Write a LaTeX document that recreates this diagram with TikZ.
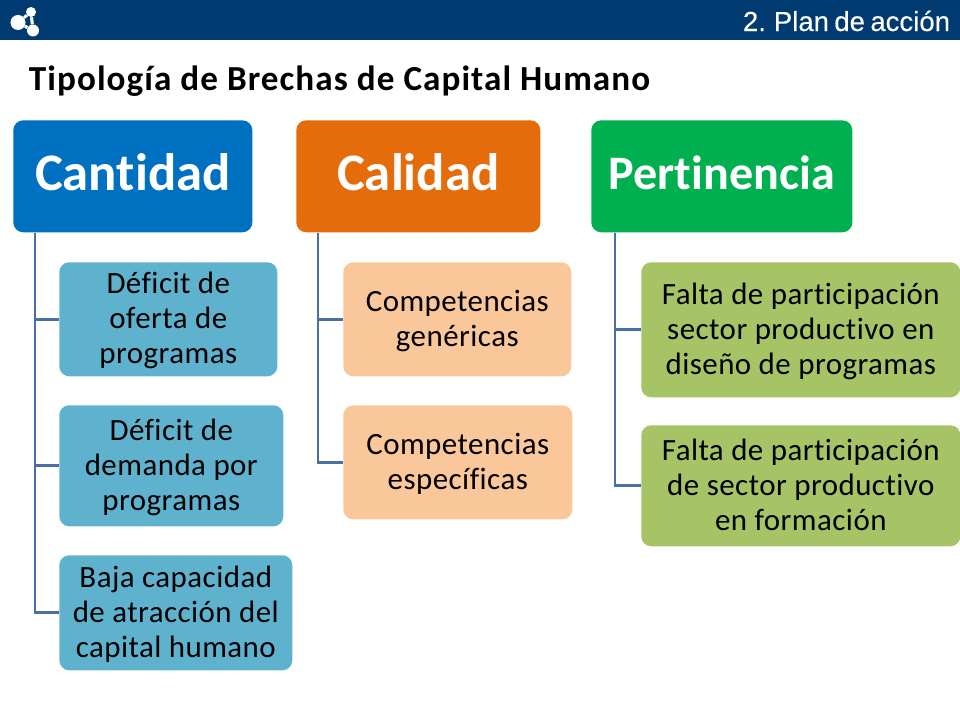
\documentclass[tikz,border=0pt]{standalone}
\usepackage{fontspec}
\setmainfont{Carlito}[Ligatures=CommonOff]
\newfontfamily\leaffont{Carlito}[Ligatures=CommonOff,LetterSpace=1.5]
\newfontfamily\titlefont{Carlito}[Ligatures=CommonOff,LetterSpace=3.0]
\newfontfamily\headfont{Liberation Sans}[WordSpace=0.7,FakeBold=0.2]
\usetikzlibrary{calc}
\definecolor{barblue}{HTML}{003A70}
\definecolor{cantblue}{HTML}{0070C0}
\definecolor{caliorange}{HTML}{E46C0A}
\definecolor{pertgreen}{HTML}{00B050}
\definecolor{cantlight}{HTML}{5FB2CE}
\definecolor{calilight}{HTML}{FAC79A}
\definecolor{pertlight}{HTML}{A6C365}
\definecolor{linkblue}{HTML}{4A6EA6}
\tikzset{
  head/.style={anchor=north west,rounded corners=0.25cm,inner sep=0pt,text=white,text depth=0.2cm,
    font=\fontsize{37.5}{40}\selectfont\bfseries,minimum height=2.8cm},
  leaf/.style={anchor=north west,rounded corners=0.25cm,inner sep=0pt,text=black,align=center,text depth=1.8pt,
    font=\leaffont\fontsize{22}{25}\selectfont},
  link/.style={draw=linkblue,line width=2.1pt},
  dot/.style={circle,fill=white,inner sep=0pt}
}
\begin{document}
\begin{tikzpicture}[x=0.025cm,y=-0.025cm]
\useasboundingbox (0,0) rectangle (960,720);
\fill[barblue] (0,0) rectangle (960,40);
% logo
\node[dot,minimum size=0.375cm] (dotl) at (18,22.5) {};
\node[dot,minimum size=0.25cm] (dott) at (31,12) {};
\node[dot,minimum size=0.3cm] (dotb) at (33,30.5) {};
\draw[white,line width=2.2pt] (dotl) -- (dott) -- (dotb) -- (dotl);
\node[anchor=east,text=white,font=\headfont\fontsize{19.6}{22}\selectfont] (section) at (955,21) {2. Plan de acción};
\node[anchor=west,font=\titlefont\fontsize{25}{28}\selectfont\bfseries] (title) at (24,81) {Tipología de Brechas de Capital Humano};
% heads
\node[head,fill=cantblue,minimum width=5.975cm] (cantidad) at (13,120) {Cantidad};
\node[head,fill=caliorange,minimum width=6.1cm] (calidad) at (296,120) {Calidad};
\node[head,fill=pertgreen,minimum width=6.525cm,font=\fontsize{34.2}{40}\selectfont\bfseries] (pertinencia) at (591,120) {Pertinencia};
% leaves
\node[leaf,fill=cantlight,minimum width=5.45cm,minimum height=2.85cm] (oferta) at (59,262) {Déficit de\\oferta de\\programas};
\node[leaf,fill=cantlight,minimum width=5.6cm,minimum height=3.025cm] (demanda) at (59,405) {Déficit de\\demanda por\\programas};
\node[leaf,fill=cantlight,minimum width=5.825cm,minimum height=2.875cm] (baja) at (59,555) {Baja capacidad\\de atracción del\\capital humano};
\node[leaf,fill=calilight,minimum width=5.7cm,minimum height=2.85cm] (genericas) at (343,262) {Competencias\\genéricas};
\node[leaf,fill=calilight,minimum width=5.725cm,minimum height=2.85cm] (especificas) at (343,405) {Competencias\\específicas};
\node[leaf,fill=pertlight,minimum width=7.975cm,minimum height=3.375cm] (diseno) at (641,262) {Falta de participación\\sector productivo en\\diseño de programas};
\node[leaf,fill=pertlight,minimum width=7.975cm,minimum height=3.025cm] (formacion) at (641,425) {Falta de participación\\de sector productivo\\en formación};
% links
\foreach \Leaf in {oferta,demanda,baja}{
    \draw[link] ($(cantidad.south west)+(22,0)$) |- (\Leaf.west);
}
\foreach \Leaf in {genericas,especificas}{
    \draw[link] ($(calidad.south west)+(22,0)$) |- (\Leaf.west);
}
\foreach \Leaf in {diseno,formacion}{
    \draw[link] ($(pertinencia.south west)+(24,0)$) |- (\Leaf.west);
}
\end{tikzpicture}
\end{document}
